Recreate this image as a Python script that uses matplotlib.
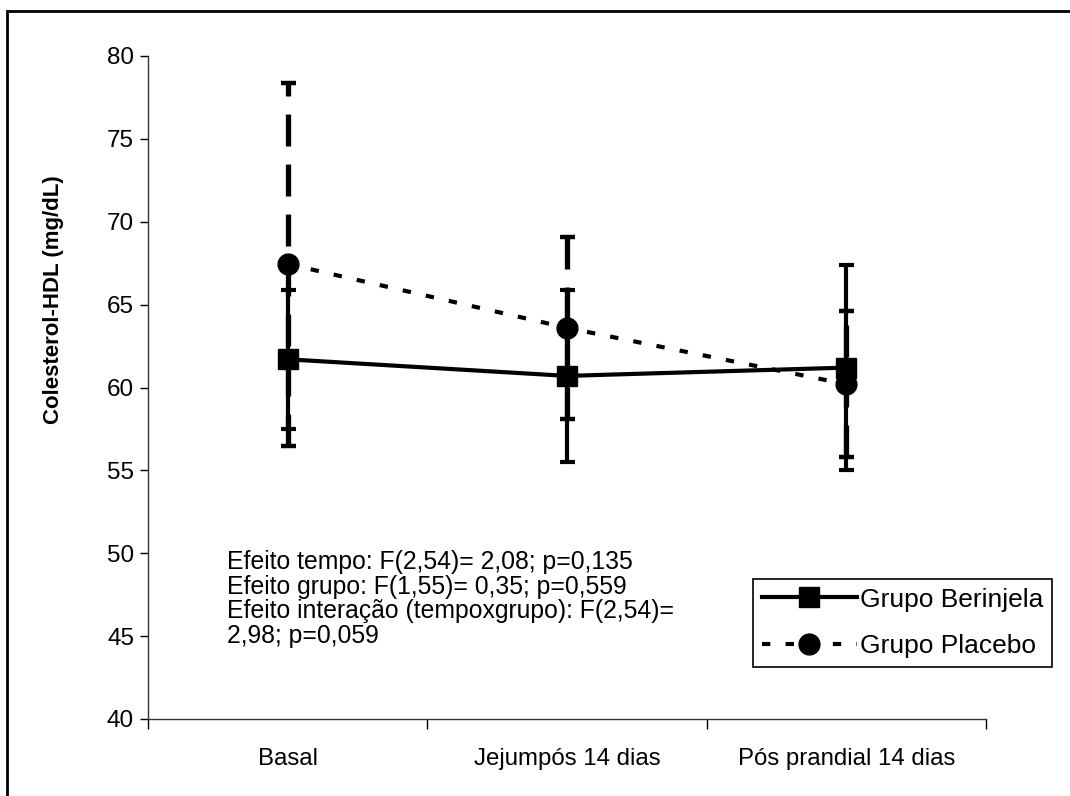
import matplotlib
matplotlib.use('Agg')
import matplotlib.pyplot as plt
from matplotlib.lines import Line2D
from matplotlib.patches import Rectangle

plt.rcParams['font.family'] = ['Liberation Sans', 'DejaVu Sans']
plt.rcParams['lines.scale_dashes'] = False

# Data
categories = ['Basal', 'Jejumpós 14 dias', 'Pós prandial 14 dias']
berinjela_mean = [61.7, 60.7, 61.2]
berinjela_err = [4.2, 5.2, 6.2]
placebo_mean = [67.45, 63.6, 60.2]
placebo_err = [10.95, 5.5, 4.4]
stats_text = ('Efeito tempo: F(2,54)= 2,08; p=0,135\n'
              'Efeito grupo: F(1,55)= 0,35; p=0,559\n'
              'Efeito interação (tempoxgrupo): F(2,54)=\n'
              '2,98; p=0,059')

W, H = 1070, 796
fig = plt.figure(figsize=(W / 100, H / 100), dpi=100)
ax = fig.add_axes([148 / W, 1 - 719 / H, (986 - 148) / W, (719 - 56) / H])

x = list(range(1, len(categories) + 1))

# outer frame (cropped at right and bottom)
fig.patches.append(Rectangle((7 / W, -0.05), 1.2, 1 - 11 / H + 0.05,
                             transform=fig.transFigure, fill=False,
                             edgecolor='black', linewidth=2.0, zorder=0))

# Placebo: dashed error bars, short-dash line
pl = ax.errorbar(x, placebo_mean, yerr=placebo_err, color='black',
                 linestyle=(0, (6, 11)), linewidth=3.0,
                 marker='o', markersize=15, elinewidth=3.8,
                 capsize=5.4, capthick=3.2, zorder=3)
pl[2][0].set_linestyle((0, (23, 13)))
for c in pl[1]:
    c.set_solid_capstyle('butt')

# Berinjela: solid
br = ax.errorbar(x, berinjela_mean, yerr=berinjela_err, color='black',
                 linestyle='-', linewidth=3.0,
                 marker='s', markersize=14.5, elinewidth=3.0,
                 capsize=5.4, capthick=3.0, zorder=4)

ax.set_xlim(0.5, len(categories) + 0.5)
ax.set_ylim(40, 80)
ax.set_yticks(range(40, 81, 5))
ax.tick_params(axis='y', labelsize=17.5, length=6, width=1, direction='out', pad=4)

# tick marks between categories, labels at category centres
ax.set_xticks([i + 0.5 for i in range(len(categories) + 1)])
ax.set_xticklabels([])
ax.set_xticks(x, minor=True)
ax.set_xticklabels(categories, minor=True, fontsize=17.3)
ax.tick_params(axis='x', which='major', length=7, width=1, direction='out')
ax.tick_params(axis='x', which='minor', length=0, pad=21)

for s in ['top', 'right']:
    ax.spines[s].set_visible(False)
for s in ['left', 'bottom']:
    ax.spines[s].set_linewidth(1)
    ax.spines[s].set_color('#333333')

ax.set_ylabel('Colesterol-HDL (mg/dL)', fontsize=16, fontweight='bold')
ax.yaxis.set_label_coords(64 / W, 1 - 300 / H, transform=fig.transFigure)

fig.text(227 / W, 1 - 550 / H, stats_text, fontsize=17.8, va='top', ha='left',
         linespacing=1.03)

h_br = Line2D([], [], color='black', linewidth=3.0, marker='s', markersize=14.5)
h_pl = Line2D([], [], color='black', linewidth=3.0, linestyle=(0, (6, 11)),
              marker='o', markersize=15)
leg = ax.legend([h_br, h_pl], ['Grupo Berinjela', 'Grupo Placebo'],
                loc='upper left', bbox_to_anchor=(753 / W, 1 - 579 / H),
                bbox_transform=fig.transFigure, borderaxespad=0,
                fontsize=19, frameon=True, fancybox=False, framealpha=1,
                edgecolor='black', handlelength=3.6, handletextpad=0.12,
                borderpad=0.33, labelspacing=0.85)
leg.get_frame().set_linewidth(1.2)

fig.savefig('out.png', dpi=100)
